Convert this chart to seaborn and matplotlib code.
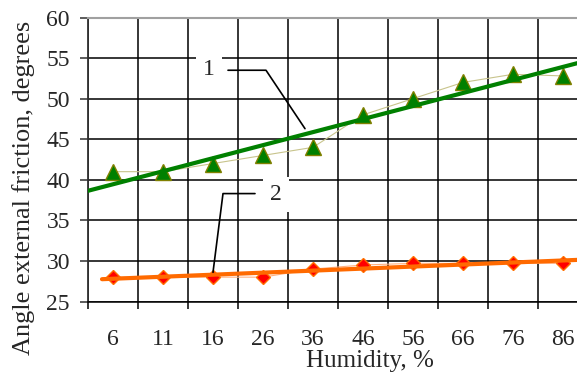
import numpy as np
import matplotlib
matplotlib.use("Agg")
import matplotlib.pyplot as plt
import seaborn as sns

# values
humidity = ['6', '11', '16', '26', '36', '46', '56', '66', '76', '86']
angle_1 = [41, 41, 42, 43, 44, 48, 50, 52, 53, 52.8]
angle_2 = [28, 28, 28, 28, 29, 29.5, 29.7, 29.7, 29.7, 29.7]
y_ticks = [25, 30, 35, 40, 45, 50, 55, 60]

sns.set_style("white")
plt.rcParams['font.family'] = ['Liberation Serif', 'DejaVu Serif']
plt.rcParams['font.size'] = 17

W, H = 577, 376
fig = plt.figure(figsize=(W / 100, H / 100), dpi=100)
ax = fig.add_axes([88 / W, 74.5 / H, 500 / W, 284 / H])

pos = np.arange(len(humidity))

# thin lines joining the measured points, with markers
sns.lineplot(x=pos, y=angle_1, ax=ax, color='#c8c48c', lw=0.8, marker='^',
             markersize=12, markerfacecolor='#008000', markeredgecolor='#808000',
             markeredgewidth=1, zorder=3)
sns.lineplot(x=pos, y=angle_2, ax=ax, color='#ffb080', lw=0.8, marker='D',
             markersize=7.5, markerfacecolor='#ff0000', markeredgecolor='#ff7000',
             markeredgewidth=1, zorder=3)

# linear trend lines
k1, b1 = np.polyfit(pos, angle_1, 1)
xx1 = np.array([-1.0, 10.0])
ax.plot(xx1, k1 * xx1 + b1, color='#008000', lw=3, zorder=4)
k2, b2 = np.polyfit(pos, angle_2, 1)
xx2 = np.array([-0.22, 10.0])
ax.plot(xx2, k2 * xx2 + b2, color='#ff6a00', lw=3, zorder=4)

ax.set_xlim(-0.5, 9.5)
ax.set_ylim(25, 60)
ax.set_yticks(y_ticks)
ax.set_xticks(pos)
ax.set_xticklabels(humidity)
ax.set_xticks(np.arange(-0.5, 10, 1), minor=True)
ax.grid(which='minor', axis='x', color='black', lw=1.1)
ax.grid(which='major', axis='y', color='black', lw=1.1)
ax.grid(which='major', axis='x', visible=False)
ax.set_axisbelow(True)

ax.tick_params(axis='y', direction='out', length=6, width=1.1, color='#303030',
               pad=7, left=True, labelsize=17)
ax.tick_params(axis='x', which='minor', direction='out', length=5, width=1.1,
               color='black', bottom=True)
ax.tick_params(axis='x', which='major', length=0, pad=20, labelsize=17)

for side in ['left', 'bottom', 'top', 'right']:
    ax.spines[side].set_visible(True)
ax.spines['left'].set_color('#303030')
ax.spines['left'].set_linewidth(1.3)
ax.spines['bottom'].set_color('black')
ax.spines['bottom'].set_linewidth(1.1)
ax.spines['top'].set_color('#a0a0a0')
ax.spines['top'].set_linewidth(1.5)
ax.spines['right'].set_visible(False)

# curve labels with leader lines
box = dict(boxstyle='square,pad=0.3', fc='white', ec='none')
ax.text(1.92, 53.6, '1', ha='center', va='center', bbox=box, zorder=6)
ax.plot([2.3, 3.06, 3.84], [53.5, 53.5, 46.3], color='black', lw=1.2, zorder=5)
ax.text(3.26, 38.2, '2', ha='center', va='center', bbox=box, zorder=6)
ax.plot([2.84, 2.2, 2.0], [38.3, 38.3, 28.6], color='black', lw=1.2, zorder=5)

ax.set_xlabel('')
ax.set_ylabel('')
fig.text(370 / W, 1 - 367 / H, 'Humidity, %', ha='center', va='baseline',
         fontsize=18)
fig.text(24 / W, 1 - 188 / H, 'Angle external friction, degrees',
         ha='center', va='center', rotation=90, fontsize=19)

fig.savefig('out.png', dpi=100)
